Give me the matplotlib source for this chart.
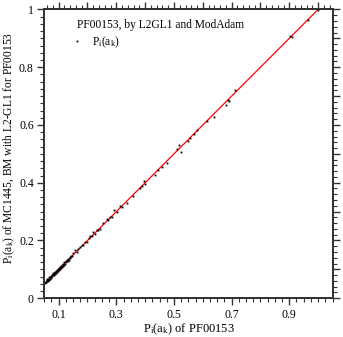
import numpy as np
import matplotlib.pyplot as plt
from matplotlib.ticker import MultipleLocator, NullFormatter

plt.rcParams['font.family'] = 'Liberation Serif'
plt.rcParams['mathtext.fontset'] = 'custom'
plt.rcParams['mathtext.rm'] = 'Liberation Serif'
plt.rcParams['mathtext.it'] = 'Liberation Serif'

# data: P_i(a_k) of PF00153 vs MC1445 estimate
x_pf = [0.052, 0.055, 0.057, 0.058, 0.060, 0.061, 0.063, 0.064, 0.066, 0.067,
        0.069, 0.070, 0.072, 0.073, 0.075, 0.076, 0.078, 0.079, 0.081, 0.082,
        0.084, 0.085, 0.087, 0.088, 0.090, 0.091, 0.093, 0.094, 0.096, 0.098,
        0.100, 0.101, 0.103, 0.105, 0.107, 0.108, 0.110, 0.112, 0.114, 0.116,
        0.118, 0.120, 0.122, 0.124, 0.126, 0.128, 0.131, 0.133, 0.136, 0.139,
        0.141, 0.144, 0.147, 0.151, 0.157, 0.162, 0.168, 0.175, 0.180, 0.186,
        0.192, 0.198, 0.204, 0.209, 0.215, 0.220, 0.226, 0.232, 0.238, 0.243,
        0.255, 0.269, 0.272, 0.278, 0.284, 0.292, 0.301, 0.313, 0.319, 0.336,
        0.359, 0.382, 0.388, 0.396, 0.399, 0.434, 0.446, 0.457, 0.475, 0.511,
        0.518, 0.523, 0.550, 0.556, 0.569, 0.579, 0.616, 0.640, 0.679, 0.688,
        0.692, 0.712, 0.902, 0.908, 0.964, 1.000]
y_mc = [0.052, 0.057, 0.055, 0.062, 0.058, 0.066, 0.061, 0.068, 0.064, 0.072,
        0.067, 0.074, 0.070, 0.078, 0.073, 0.080, 0.076, 0.083, 0.079, 0.086,
        0.082, 0.089, 0.085, 0.091, 0.088, 0.094, 0.090, 0.097, 0.094, 0.100,
        0.098, 0.104, 0.101, 0.108, 0.104, 0.111, 0.108, 0.115, 0.112, 0.119,
        0.116, 0.127, 0.120, 0.128, 0.124, 0.132, 0.129, 0.137, 0.134, 0.144,
        0.139, 0.148, 0.145, 0.156, 0.168, 0.160, 0.170, 0.176, 0.185, 0.184,
        0.195, 0.196, 0.208, 0.216, 0.214, 0.231, 0.224, 0.236, 0.235, 0.239,
        0.262, 0.274, 0.272, 0.283, 0.283, 0.306, 0.297, 0.318, 0.316, 0.330,
        0.355, 0.382, 0.387, 0.405, 0.395, 0.428, 0.445, 0.454, 0.470, 0.517,
        0.532, 0.507, 0.543, 0.555, 0.570, 0.581, 0.615, 0.628, 0.670, 0.688,
        0.682, 0.722, 0.907, 0.905, 0.963, 0.998]
diag = [0.0, 1.0]

fig = plt.figure(figsize=(3.43, 3.37), dpi=100)
ax = fig.add_axes([0.129, 0.115, 0.843, 0.857])

ax.plot(diag, diag, color='red', lw=0.9, zorder=2)
ax.plot(x_pf, y_mc, ls='none', marker='s', ms=1.3, mew=0, color='black',
        zorder=3, label=r'P$_\mathrm{i}$(a$_\mathrm{k}$)')

ax.set_xlim(0.05, 1.053)
ax.set_ylim(0.0, 1.0)

ax.xaxis.set_minor_locator(MultipleLocator(0.025))
ax.yaxis.set_minor_locator(MultipleLocator(0.025))
ax.set_xticks([0.1, 0.3, 0.5, 0.7, 0.9])
ax.set_xticklabels(['0.1', '0.3', '0.5', '0.7', '0.9'])
ax.set_yticks([0, 0.2, 0.4, 0.6, 0.8, 1.0])
ax.set_yticklabels(['0', '0.2', '0.4', '0.6', '0.8', '1'])

# top and right axes with their own ticks
axt = ax.twiny()
axt.set_xlim(ax.get_xlim())
axt.xaxis.set_major_locator(MultipleLocator(0.1))
axt.xaxis.set_minor_locator(MultipleLocator(0.02))
axt.xaxis.set_major_formatter(NullFormatter())
axr = ax.twinx()
axr.set_ylim(ax.get_ylim())
axr.yaxis.set_major_locator(MultipleLocator(0.1))
axr.yaxis.set_minor_locator(MultipleLocator(0.02))
axr.yaxis.set_major_formatter(NullFormatter())

for a in (ax, axt, axr):
    a.tick_params(which='major', direction='out', length=5, width=1,
                  color='#333333', labelsize=8.5, pad=3)
    a.tick_params(which='minor', direction='out', length=3, width=0.8,
                  color='#333333')
    for s in a.spines.values():
        s.set_linewidth(1.3)
        s.set_color('#333333')
ax.tick_params(axis='y', which='major', pad=2.5)

ax.set_xlabel(r'P$_\mathrm{i}$(a$_\mathrm{k}$) of PF00153', fontsize=9)
ax.set_ylabel(r'P$_\mathrm{i}$(a$_\mathrm{k}$) of MC1445, BM with L2-GL1 for PF00153',
              fontsize=8.3)
ax.xaxis.set_label_coords(0.5, -0.082)
ax.yaxis.set_label_coords(-0.094, 0.52)

ax.text(0.113, 0.966, 'PF00153, by L2GL1 and ModAdam', transform=ax.transAxes,
        fontsize=8.3, va='top', ha='left')
leg = ax.legend(loc='upper left', bbox_to_anchor=(0.057, 0.95), frameon=False,
                fontsize=8.3, handlelength=1.0, handletextpad=0.8, markerscale=1.0)

fig.savefig('out.png', dpi=100)
